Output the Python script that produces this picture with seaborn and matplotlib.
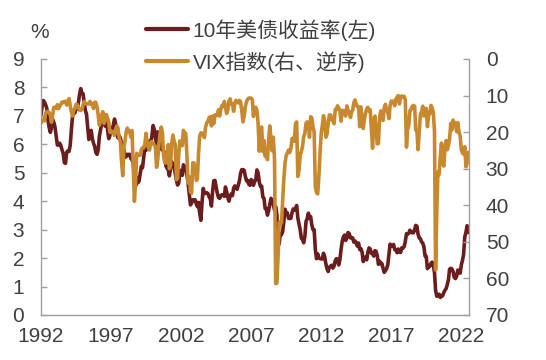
import matplotlib
matplotlib.use("Agg")
import matplotlib.pyplot as plt
import matplotlib.dates as mdates
import numpy as np
import pandas as pd
import seaborn as sns

# 月度数据 1992-01 至 2022-07
start_month = "1992-01-01"

yield_10y = [
    7.03, 7.34, 7.54, 7.48, 7.39, 7.26, 6.84, 6.59, 6.42, 6.59, 6.87, 6.77,  # 1992
    6.60, 6.26, 5.98, 5.97, 6.04, 5.96, 5.81, 5.68, 5.36, 5.33, 5.72, 5.77,  # 1993
    5.75, 5.97, 6.48, 6.97, 7.18, 7.10, 7.30, 7.24, 7.46, 7.74, 7.96, 7.81,  # 1994
    7.78, 7.47, 7.20, 7.06, 6.63, 6.17, 6.28, 6.49, 6.20, 6.04, 5.93, 5.71,  # 1995
    5.65, 5.81, 6.27, 6.51, 6.74, 6.91, 6.87, 6.64, 6.83, 6.53, 6.20, 6.30,  # 1996
    6.58, 6.42, 6.69, 6.89, 6.71, 6.49, 6.22, 6.30, 6.21, 6.03, 5.88, 5.81,  # 1997
    5.54, 5.57, 5.65, 5.64, 5.65, 5.50, 5.46, 5.34, 4.81, 4.53, 4.83, 4.65,  # 1998
    4.72, 5.00, 5.23, 5.18, 5.54, 5.90, 5.79, 5.94, 5.92, 6.11, 6.03, 6.28,  # 1999
    6.66, 6.52, 6.26, 5.99, 6.44, 6.10, 6.05, 5.83, 5.80, 5.74, 5.72, 5.24,  # 2000
    5.16, 5.10, 4.89, 5.14, 5.39, 5.28, 5.24, 4.97, 4.73, 4.57, 4.65, 5.09,  # 2001
    5.04, 4.91, 5.28, 5.21, 5.16, 4.93, 4.65, 4.26, 3.87, 3.94, 4.05, 4.03,  # 2002
    4.05, 3.90, 3.81, 3.96, 3.57, 3.33, 3.98, 4.45, 4.27, 4.29, 4.30, 4.27,  # 2003
    4.15, 4.08, 3.83, 4.35, 4.72, 4.73, 4.50, 4.28, 4.13, 4.10, 4.19, 4.23,  # 2004
    4.22, 4.17, 4.50, 4.34, 4.14, 4.00, 4.18, 4.26, 4.20, 4.46, 4.54, 4.47,  # 2005
    4.42, 4.57, 4.72, 4.99, 5.11, 5.11, 5.09, 4.88, 4.72, 4.73, 4.60, 4.56,  # 2006
    4.76, 4.72, 4.56, 4.69, 4.75, 5.10, 5.00, 4.67, 4.52, 4.53, 4.15, 4.10,  # 2007
    3.74, 3.74, 3.51, 3.68, 3.88, 4.10, 4.01, 3.89, 3.69, 3.81, 3.53, 2.42,  # 2008
    2.52, 2.87, 2.82, 2.93, 3.29, 3.72, 3.56, 3.59, 3.40, 3.39, 3.40, 3.59,  # 2009
    3.73, 3.69, 3.73, 3.85, 3.42, 3.20, 3.01, 2.70, 2.65, 2.54, 2.76, 3.29,  # 2010
    3.39, 3.58, 3.41, 3.46, 3.17, 3.00, 3.00, 2.30, 1.98, 2.15, 2.01, 1.98,  # 2011
    1.97, 1.97, 2.17, 2.05, 1.80, 1.62, 1.53, 1.68, 1.72, 1.75, 1.65, 1.72,  # 2012
    1.91, 1.98, 1.96, 1.76, 1.93, 2.30, 2.58, 2.74, 2.81, 2.62, 2.72, 2.90,  # 2013
    2.86, 2.71, 2.72, 2.71, 2.56, 2.60, 2.54, 2.42, 2.53, 2.30, 2.33, 2.21,  # 2014
    1.88, 1.98, 2.04, 1.94, 2.20, 2.36, 2.32, 2.17, 2.17, 2.07, 2.26, 2.24,  # 2015
    2.09, 1.78, 1.89, 1.81, 1.81, 1.64, 1.50, 1.56, 1.63, 1.76, 2.14, 2.49,  # 2016
    2.43, 2.42, 2.48, 2.30, 2.30, 2.19, 2.32, 2.21, 2.20, 2.36, 2.35, 2.40,  # 2017
    2.58, 2.86, 2.84, 2.87, 2.98, 2.91, 2.89, 2.89, 3.00, 3.15, 3.12, 2.83,  # 2018
    2.71, 2.68, 2.57, 2.53, 2.40, 2.07, 2.06, 1.63, 1.70, 1.71, 1.81, 1.86,  # 2019
    1.76, 1.50, 0.87, 0.66, 0.67, 0.73, 0.62, 0.65, 0.68, 0.79, 0.87, 0.93,  # 2020
    1.08, 1.26, 1.61, 1.64, 1.62, 1.52, 1.32, 1.28, 1.37, 1.58, 1.56, 1.47,  # 2021
    1.76, 1.93, 2.13, 2.75, 2.90, 3.14, 2.90,                                # 2022
]

vix = [
    17.5, 17.0, 16.5, 16.9, 14.7, 14.6, 14.3, 14.7, 15.3, 17.3, 15.2, 13.2,  # 1992
    13.3, 13.5, 12.5, 13.6, 12.9, 12.4, 11.8, 11.9, 11.6, 11.6, 12.6, 11.5,  # 1993
    10.8, 12.7, 14.4, 15.6, 14.1, 13.6, 12.4, 12.5, 13.2, 14.0, 14.1, 13.8,  # 1994
    12.6, 11.6, 12.1, 12.3, 12.2, 12.3, 11.6, 12.4, 12.4, 13.5, 11.8, 11.9,  # 1995
    13.1, 15.4, 18.1, 17.2, 15.3, 14.4, 17.6, 16.4, 15.2, 16.1, 17.3, 20.0,  # 1996
    19.7, 20.2, 19.8, 20.9, 19.2, 18.3, 18.9, 21.7, 22.6, 28.0, 31.9, 24.3,  # 1997
    22.2, 19.8, 18.9, 19.8, 19.7, 21.4, 19.6, 29.0, 38.9, 33.8, 25.8, 26.1,  # 1998
    26.3, 26.3, 24.7, 24.3, 24.3, 23.2, 20.3, 23.3, 24.2, 24.9, 22.7, 22.6,  # 1999
    23.2, 23.5, 23.9, 29.6, 27.5, 23.4, 20.4, 18.6, 20.1, 26.4, 28.4, 28.4,  # 2000
    26.0, 23.4, 30.0, 29.1, 23.1, 20.8, 22.4, 23.3, 33.0, 32.6, 25.8, 22.4,  # 2001
    22.8, 23.7, 19.5, 20.5, 20.3, 26.3, 33.9, 32.2, 36.3, 36.7, 28.4, 28.4,  # 2002
    29.5, 33.2, 32.8, 25.6, 21.0, 20.2, 20.3, 20.9, 21.5, 18.6, 17.4, 17.1,  # 2003
    16.0, 15.8, 18.3, 15.6, 17.7, 15.3, 15.4, 15.4, 13.9, 15.6, 13.7, 12.7,  # 2004
    13.0, 11.6, 13.1, 14.9, 14.0, 11.4, 10.9, 12.3, 12.4, 14.3, 12.1, 11.3,  # 2005
    11.9, 12.0, 11.3, 11.8, 14.1, 17.2, 15.8, 13.0, 11.7, 11.0, 10.7, 10.7,  # 2006
    10.7, 11.2, 15.7, 13.3, 13.2, 14.1, 17.7, 25.2, 20.1, 18.6, 25.3, 22.3,  # 2007
    26.6, 25.1, 27.5, 21.9, 18.3, 21.6, 25.1, 21.4, 27.5, 61.4, 61.3, 54.3,  # 2008
    44.6, 45.1, 44.8, 38.5, 32.9, 28.6, 26.4, 25.7, 24.9, 25.6, 24.5, 21.8,  # 2009
    21.6, 22.5, 17.8, 17.2, 32.1, 30.5, 26.4, 25.3, 23.9, 21.2, 20.4, 17.6,  # 2010
    17.2, 17.5, 21.4, 15.8, 16.1, 18.6, 19.9, 35.0, 36.5, 36.9, 32.1, 25.9,  # 2011
    20.4, 18.0, 15.5, 17.1, 21.4, 20.6, 17.6, 15.3, 15.3, 16.6, 16.8, 17.7,  # 2012
    13.8, 13.9, 12.8, 13.5, 13.8, 17.0, 14.1, 14.1, 15.0, 15.6, 12.8, 14.2,  # 2013
    14.4, 16.0, 14.6, 14.0, 11.9, 11.2, 12.3, 13.0, 13.1, 18.5, 13.1, 16.2,  # 2014
    19.0, 16.3, 14.9, 13.6, 13.2, 14.2, 13.9, 19.3, 24.4, 16.6, 15.6, 19.3,  # 2015
    23.2, 23.1, 16.2, 14.2, 14.5, 16.8, 13.4, 12.4, 14.0, 14.5, 16.3, 12.7,  # 2016
    11.5, 11.5, 11.7, 12.8, 10.9, 10.5, 10.0, 12.3, 10.4, 10.1, 10.5, 10.2,  # 2017
    11.1, 24.1, 19.3, 18.2, 14.2, 13.8, 13.0, 12.7, 12.9, 19.4, 19.9, 24.8,  # 2018
    19.6, 14.9, 14.6, 12.9, 15.6, 15.0, 13.5, 18.5, 15.4, 15.0, 12.7, 13.4,  # 2019
    14.6, 19.7, 57.7, 41.5, 30.9, 31.6, 26.8, 23.0, 28.1, 29.3, 24.3, 22.3,  # 2020
    24.8, 23.6, 21.8, 17.6, 19.4, 16.7, 17.7, 17.5, 19.9, 17.4, 20.0, 21.0,  # 2021
    24.8, 25.7, 26.0, 24.0, 29.5, 28.5, 25.5,                                # 2022
]

x_tick_years = [1992, 1997, 2002, 2007, 2012, 2017, 2022]
left_ticks = list(range(0, 10))
right_ticks = list(range(0, 80, 10))

label_yield = "10年美债收益率(左)"
label_vix = "VIX指数(右、逆序)"

COLOR_YIELD = "#6B1D1D"
COLOR_VIX = "#C8882E"
TEXT_COLOR = "#404040"
AXIS_COLOR = "#A0A0A0"
FONT_SIZE = 15

dates = pd.date_range(start_month, periods=len(yield_10y), freq="MS")
df = pd.DataFrame({"date": dates, "yield": yield_10y, "vix": vix})

sns.set_style("white")
plt.rcParams["font.family"] = ["Liberation Sans", "Noto Sans CJK SC", "DejaVu Sans"]

fig = plt.figure(figsize=(5.46, 3.60), dpi=100)
ax = fig.add_axes([41 / 546, 1 - 315 / 360, (469 - 41) / 546, (315 - 59) / 360])
ax2 = ax.twinx()

sns.lineplot(data=df, x="date", y="yield", color=COLOR_YIELD, linewidth=2.6, ax=ax, legend=False)
sns.lineplot(data=df, x="date", y="vix", color=COLOR_VIX, linewidth=2.6, ax=ax2, legend=False)

ax.set_xlim(pd.Timestamp("1992-01-01"), pd.Timestamp("2022-07-20"))
ax.set_ylim(0, 9)
ax2.set_ylim(70, 0)

ax.set_xticks([pd.Timestamp(f"{y}-01-01") for y in x_tick_years])
ax.xaxis.set_major_formatter(mdates.DateFormatter("%Y"))
ax.set_yticks(left_ticks)
ax2.set_yticks(right_ticks)

for a in (ax, ax2):
    a.set_xlabel("")
    a.set_ylabel("")
    a.spines["top"].set_visible(False)
    for s in ("left", "right", "bottom"):
        a.spines[s].set_color(AXIS_COLOR)
        a.spines[s].set_linewidth(1.0)

ax.spines["right"].set_visible(False)
ax2.spines["left"].set_visible(False)
ax2.spines["bottom"].set_visible(False)

ax.tick_params(axis="x", direction="in", length=5, width=1, color=AXIS_COLOR,
               labelsize=FONT_SIZE, labelcolor=TEXT_COLOR, pad=9)
ax.tick_params(axis="y", direction="in", length=4, width=1, color=AXIS_COLOR,
               labelsize=FONT_SIZE, labelcolor=TEXT_COLOR, pad=12, left=True)
ax2.tick_params(axis="y", direction="in", length=4, width=1, color=AXIS_COLOR,
                labelsize=FONT_SIZE, labelcolor=TEXT_COLOR, pad=12, right=True)

fig.text(40 / 546, 1 - 32 / 360, "%", fontsize=FONT_SIZE, color=TEXT_COLOR,
         ha="center", va="center")

handles = [
    plt.Line2D([], [], color=COLOR_YIELD, linewidth=3),
    plt.Line2D([], [], color=COLOR_VIX, linewidth=3),
]
fig.legend(handles, [label_yield, label_vix], loc="upper left",
           bbox_to_anchor=(146 / 546, 1 - 19 / 360), frameon=False,
           fontsize=FONT_SIZE, handlelength=2.0, handletextpad=0.25,
           labelspacing=0.5, borderpad=0, borderaxespad=0,
           labelcolor=TEXT_COLOR)

fig.savefig("out.png", dpi=100)
